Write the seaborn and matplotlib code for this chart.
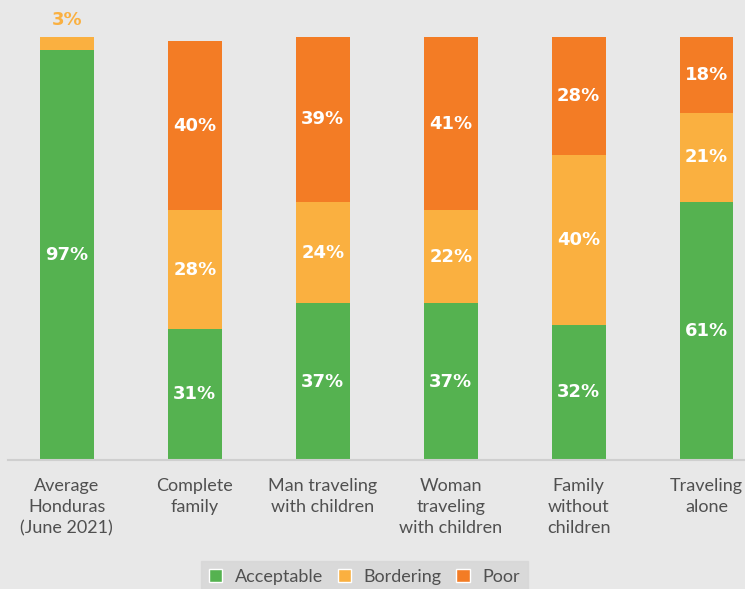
import numpy as np
import pandas as pd
import seaborn as sns
import matplotlib.pyplot as plt
from matplotlib.patches import Patch

groups = ['Average\nHonduras\n(June 2021)', 'Complete\nfamily', 'Man traveling\nwith children',
          'Woman\ntraveling\nwith children', 'Family\nwithout\nchildren', 'Traveling\nalone']
acceptable = [97, 31, 37, 37, 32, 61]
bordering = [3, 28, 24, 22, 40, 21]
poor = [0, 40, 39, 41, 28, 18]

series = ['Acceptable', 'Bordering', 'Poor']
colors = {'Acceptable': '#55B250', 'Bordering': '#FAB040', 'Poor': '#F37C25'}

df = pd.DataFrame({'group': groups, 'Acceptable': acceptable,
                   'Bordering': bordering, 'Poor': poor})

sns.set_theme(style='white')
plt.rcParams['font.family'] = ['Lato', 'DejaVu Sans']
bg = '#E8E8E8'

fig = plt.figure(figsize=(7.45, 5.89), dpi=100, facecolor=bg)
ax = fig.add_axes([0.0107, 0.219, 0.9893, 0.781])
ax.set_facecolor(bg)

bottom = np.zeros(len(df))
for s in series:
    sns.barplot(data=df, x='group', y=s, color=colors[s], width=0.42,
                bottom=bottom, ax=ax, saturation=1, linewidth=0)
    bottom = bottom + df[s].values

# value labels
base = np.zeros(len(df))
for s in series:
    for i, v in enumerate(df[s].values):
        if v == 0:
            continue
        if v < 5:
            ax.text(i, base[i] + v + 4, f'{v}%', ha='center', va='center',
                    color=colors['Bordering'], fontsize=13, fontweight='bold',
                    family='DejaVu Sans')
        else:
            ax.text(i, base[i] + v / 2, f'{v}%', ha='center', va='center',
                    color='white', fontsize=13, fontweight='bold',
                    family='DejaVu Sans')
    base = base + df[s].values

ax.set_xlim(-0.46, 5.3)
ax.set_ylim(0, 108.7)
ax.set_xlabel('')
ax.set_ylabel('')
ax.set_yticks([])
for sp in ['top', 'right', 'left']:
    ax.spines[sp].set_visible(False)
ax.spines['bottom'].set_color('#CFCFCF')
ax.spines['bottom'].set_linewidth(1.5)
ax.tick_params(axis='x', length=0, pad=13, labelsize=13, labelcolor='#505050')
for t in ax.get_xticklabels():
    t.set_linespacing(1.38)

handles = [Patch(facecolor=colors[s], label=s) for s in series]
leg = fig.legend(handles=handles, loc='lower center', bbox_to_anchor=(0.489, -0.022),
                 ncol=3, frameon=True, fontsize=13, handlelength=0.75, handleheight=0.75,
                 handletextpad=0.7, columnspacing=0.8, borderpad=0.45, fancybox=False)
leg.get_frame().set_facecolor('#D6D6D6')
leg.get_frame().set_edgecolor('#D6D6D6')
for t in leg.get_texts():
    t.set_color('#505050')

fig.savefig('out.png', dpi=100, facecolor=bg)
